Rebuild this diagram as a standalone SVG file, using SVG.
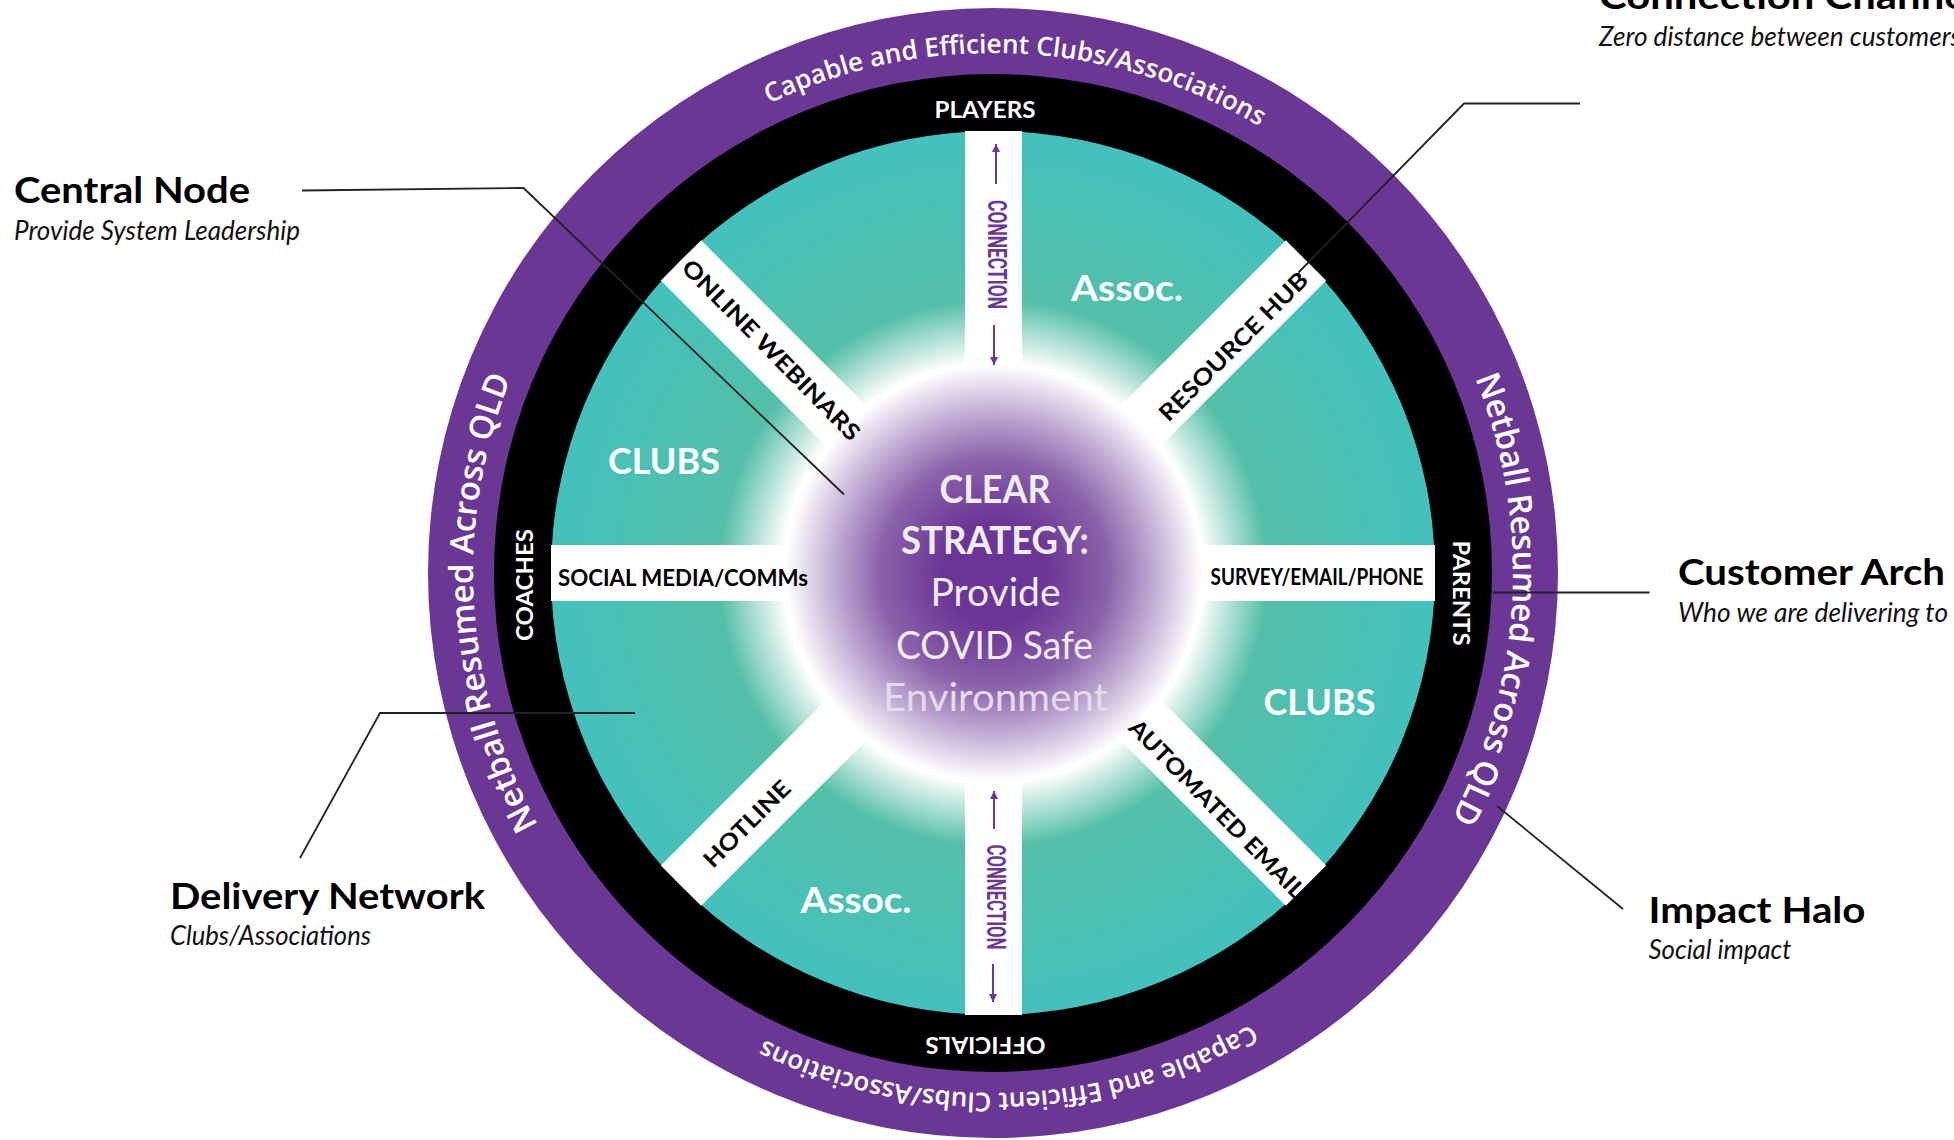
<svg xmlns="http://www.w3.org/2000/svg" width="1954" height="1140" viewBox="0 0 1954 1140">
<style>
text{font-family:"Lato","Open Sans","Liberation Sans",sans-serif}
.h{font-size:37px;font-weight:700;fill:#000}
.s{font-size:27px;font-style:italic;fill:#111}
.ring{font-family:"Open Sans","Liberation Sans",sans-serif;fill:#fff;font-weight:600}
.cap{font-size:26.2px}
.capb{font-size:26px}
.net{font-size:33px}
.netb{font-size:33px;letter-spacing:-0.3px}
.aud{font-size:23px;font-weight:700;fill:#fff;text-anchor:middle}
.sp{font-size:23px;font-weight:700;fill:#000;text-anchor:middle}
.big{font-size:37px;font-weight:700;fill:#fff;text-anchor:middle}
.con{font-family:"Roboto","Liberation Sans",sans-serif;font-size:26px;font-weight:700;fill:#6b3795;text-anchor:middle}
.c{font-size:38px;fill:#f0edf3;text-anchor:middle}
.lead{fill:none;stroke:#222;stroke-width:1.8}
.arw{fill:none;stroke:#6b3795;stroke-width:2;marker-end:url(#ah)}
</style>
<defs>
<radialGradient id="teal" cx="50%" cy="50%" r="50%">
<stop offset="0.475" stop-color="#fff"/>
<stop offset="0.53" stop-color="#bfe6dc"/>
<stop offset="0.62" stop-color="#53bfa8"/>
<stop offset="0.8" stop-color="#4cc0b2"/>
<stop offset="1" stop-color="#43c1bd"/>
</radialGradient>
<radialGradient id="core" cx="50%" cy="50%" r="50%">
<stop offset="0.25" stop-color="#6b3595"/>
<stop offset="0.55" stop-color="#8a62aa"/>
<stop offset="0.8" stop-color="#c8b6d9"/>
<stop offset="1" stop-color="#fff"/>
</radialGradient>
<marker id="ah" markerUnits="userSpaceOnUse" markerWidth="12" markerHeight="12" refX="9" refY="5" orient="auto">
<path d="M1 1 L9 5 L1 9 Z" fill="#6b3795"/>
</marker>
<path id="ringpath" d="M993 53 A520 520 0 1 1 992.9 53"/>
</defs>

<g id="impact-halo-ring">
<circle cx="993" cy="573" r="565" fill="#6b3795"/>
<g transform="rotate(-25.5 993 573)"><text class="ring cap"><textPath href="#ringpath">Capable and Efficient Clubs/Associations</textPath></text></g>
<g transform="rotate(150.2 993 573)"><text class="ring capb"><textPath href="#ringpath">Capable and Efficient Clubs/Associations</textPath></text></g>
<g transform="rotate(68 993 573)"><text class="ring netb"><textPath href="#ringpath">Netball Resumed Across QLD</textPath></text></g>
<g transform="rotate(241 993 573)"><text class="ring net"><textPath href="#ringpath">Netball Resumed Across QLD</textPath></text></g>
</g>

<g id="customer-arch-ring">
<circle cx="993" cy="573" r="499" fill="#000"/>
<text class="aud" x="985" y="118" textLength="101" lengthAdjust="spacingAndGlyphs">PLAYERS</text>
<text class="aud" transform="translate(985.5 1037) rotate(180)" textLength="120" lengthAdjust="spacingAndGlyphs">OFFICIALS</text>
<text class="aud" transform="translate(533 585) rotate(-90)" textLength="112" lengthAdjust="spacingAndGlyphs">COACHES</text>
<text class="aud" transform="translate(1453 593) rotate(90)" textLength="105" lengthAdjust="spacingAndGlyphs">PARENTS</text>
</g>

<g id="delivery-network">
<circle cx="993" cy="573" r="442" fill="url(#teal)"/>
<g fill="#fff">
<rect x="965" y="131" width="57" height="884"/>
<rect x="551" y="545" width="884" height="56"/>
<rect x="965" y="131" width="57" height="884" transform="rotate(45 993.5 573)"/>
<rect x="965" y="131" width="57" height="884" transform="rotate(-45 993.5 573)"/>
</g>
<text class="big" x="664" y="474" textLength="112" lengthAdjust="spacingAndGlyphs">CLUBS</text>
<text class="big" x="1319.5" y="715" textLength="112" lengthAdjust="spacingAndGlyphs">CLUBS</text>
<text class="big" x="1127" y="301" textLength="112" lengthAdjust="spacingAndGlyphs">Assoc.</text>
<text class="big" x="856" y="913" textLength="111" lengthAdjust="spacingAndGlyphs">Assoc.</text>
</g>

<g id="central-node">
<circle cx="994" cy="573" r="208" fill="url(#core)"/>
<text class="c" x="995" y="503" style="font-weight:700" textLength="111" lengthAdjust="spacingAndGlyphs">CLEAR</text>
<text class="c" x="995" y="554" style="font-weight:700" textLength="188" lengthAdjust="spacingAndGlyphs">STRATEGY:</text>
<text class="c" x="995.5" y="606" textLength="130" lengthAdjust="spacingAndGlyphs">Provide</text>
<text class="c" x="994.5" y="659" textLength="197" lengthAdjust="spacingAndGlyphs">COVID Safe</text>
<text class="c" x="995.5" y="711" style="fill:#e4dbea" textLength="225" lengthAdjust="spacingAndGlyphs">Environment</text>
</g>

<g id="connection-channels">
<text class="sp" x="683" y="586" textLength="250" lengthAdjust="spacingAndGlyphs">SOCIAL MEDIA/COMMs</text>
<text class="sp" x="1317" y="585" textLength="213" lengthAdjust="spacingAndGlyphs">SURVEY/EMAIL/PHONE</text>
<text class="sp" transform="translate(771 350) rotate(45.5)" y="8" textLength="243" lengthAdjust="spacingAndGlyphs">ONLINE WEBINARS</text>
<text class="sp" transform="translate(1233.5 346.5) rotate(-45)" y="8" textLength="200" lengthAdjust="spacingAndGlyphs">RESOURCE HUB</text>
<text class="sp" transform="translate(1217 809) rotate(45.5)" y="8" textLength="240" lengthAdjust="spacingAndGlyphs">AUTOMATED EMAIL</text>
<text class="sp" transform="translate(747 824) rotate(-45)" y="8" textLength="112" lengthAdjust="spacingAndGlyphs">HOTLINE</text>
<text class="con" transform="translate(988 254.5) rotate(90)" textLength="109" lengthAdjust="spacingAndGlyphs">CONNECTION</text>
<text class="con" transform="translate(987 897) rotate(90)" textLength="105" lengthAdjust="spacingAndGlyphs">CONNECTION</text>
<path class="arw" d="M996 184 V144"/>
<path class="arw" d="M994 325 V365"/>
<path class="arw" d="M994 829 V791"/>
<path class="arw" d="M993 964 V1002"/>
</g>

<g id="connectors">
<path class="lead" d="M302 190.5 L523.5 188 L844 494.5"/>
<path class="lead" d="M1580 103.5 H1464 L1298.5 272.5"/>
<path class="lead" d="M1493 592.5 H1649.5"/>
<path class="lead" d="M1497 806 L1623 909"/>
<path class="lead" d="M300 858 L380 713 H635"/>
</g>

<g id="label-central-node">
<text class="h" x="14" y="203" textLength="236" lengthAdjust="spacingAndGlyphs">Central Node</text>
<text class="s" x="14" y="240" textLength="286" lengthAdjust="spacingAndGlyphs">Provide System Leadership</text>
</g>
<g id="label-connection-channel">
<text class="h" x="1599" y="9" textLength="378" lengthAdjust="spacingAndGlyphs">Connection Channel</text>
<text class="s" x="1599" y="46" textLength="362" lengthAdjust="spacingAndGlyphs">Zero distance between customers</text>
</g>
<g id="label-customer-arch">
<text class="h" x="1678" y="585" textLength="267" lengthAdjust="spacingAndGlyphs">Customer Arch</text>
<text class="s" x="1678" y="622" textLength="270" lengthAdjust="spacingAndGlyphs">Who we are delivering to</text>
</g>
<g id="label-impact-halo">
<text class="h" x="1648.5" y="923" textLength="217" lengthAdjust="spacingAndGlyphs">Impact Halo</text>
<text class="s" x="1648.5" y="959" textLength="143" lengthAdjust="spacingAndGlyphs">Social impact</text>
</g>
<g id="label-delivery-network">
<text class="h" x="170" y="909" textLength="315" lengthAdjust="spacingAndGlyphs">Delivery Network</text>
<text class="s" x="170" y="945" textLength="201" lengthAdjust="spacingAndGlyphs">Clubs/Associations</text>
</g>
</svg>
